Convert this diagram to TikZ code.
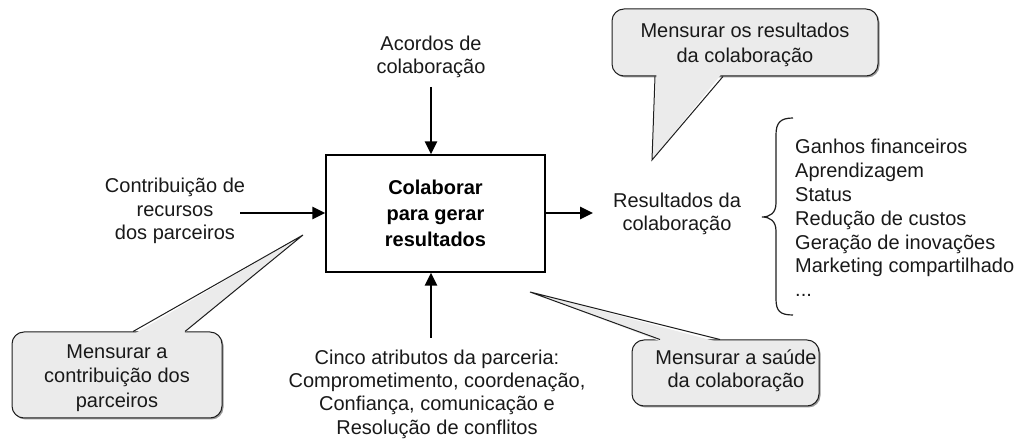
\documentclass[tikz,border=0pt]{standalone}
\usepackage{fontspec}
\setmainfont{Liberation Sans}
\usetikzlibrary{arrows.meta}
\definecolor{cfill}{HTML}{EBEBEB}
\definecolor{cshadow}{HTML}{9A9A9A}
\definecolor{cline}{HTML}{1E1E1E}
\begin{document}
\begin{tikzpicture}[x=1pt,y=-1pt,
  lbl/.style={font=\fontsize{20}{23.5}\selectfont, align=center, inner sep=0pt, text=black!90},
  arr/.style={line width=2.6pt, -{Triangle[length=13pt,width=12pt]}},
  procbox/.style={draw, line width=1.2pt, minimum width=219pt, minimum height=117pt,
    font=\fontsize{20}{26}\selectfont\bfseries, align=center, inner sep=0pt},
  cbody/.style={fill=cfill, draw=cline, line width=1pt, rounded corners=12pt},
  cshad/.style={fill=cshadow, rounded corners=12pt},
  cptr/.style={draw=cline, line width=1pt, line join=miter},
]
\useasboundingbox (0,0) rectangle (1018,443);

% --- central process
\node[procbox] (box) at (435.5,213.5) {Colaborar\\para gerar\\resultados};

% --- labels
\node[lbl] (acordos) at (431,57) {Acordos de\\colaboração};
\node[lbl] (contrib) at (175,211) {Contribuição de\\recursos\\dos parceiros};
\node[lbl] (res) at (677,214) {Resultados da\\colaboração};
\node[lbl, font=\fontsize{20}{23.3}\selectfont] (cinco) at (437,394)
  {Cinco atributos da parceria:\\Comprometimento, coordenação,\\Confiança, comunicação e\\Resolução de conflitos};
\node[lbl, align=left, anchor=west, font=\fontsize{20}{23.8}\selectfont] (lista) at (795,218)
  {Ganhos financeiros\\Aprendizagem\\Status\\Redução de custos\\Geração de inovações\\Marketing compartilhado\\...};

% --- connector end points
\coordinate (ain) at (431,87);
\coordinate (lin) at (240,213);
\coordinate (rout) at (593,213);
\coordinate (bin) at (431,338);

\draw[arr] (ain) -- (box.north -| ain);
\draw[arr] (lin) -- (box.west |- lin);
\draw[arr] (box.east |- rout) -- (rout);
\draw[arr] (bin) -- (box.south -| bin);

% --- brace
\draw[line width=1.2pt, cline] (793,118) .. controls (780,118) and (776,123) .. (776,135)
  -- (776,203) .. controls (776,213) and (770,217) .. (762,217)
  .. controls (770,217) and (776,221) .. (776,231)
  -- (776,299) .. controls (776,311) and (780,315) .. (793,315);

% --- callout top right
\fill[cshad] (613.5,10.5) rectangle (879.5,77.5);
\draw[cbody] (612,9) rectangle (878,76);
\fill[cfill] (656.5,74) -- (652,160) -- (721.5,74) -- cycle;
\draw[cptr] (655,76.5) -- (652,160) -- (723,76.5);
\node[lbl, font=\fontsize{20}{25}\selectfont] (ctr) at (745,45) {Mensurar os resultados\\da colaboração};

% --- callout bottom left
\fill[cshad] (13.5,333.5) rectangle (223.5,419.5);
\draw[cbody] (12,332) rectangle (222,418);
\fill[cfill] (134,334) -- (303,235) -- (183,334) -- cycle;
\draw[cptr] (133,331.5) -- (303,235) -- (185,331.5);
\node[lbl, font=\fontsize{20}{24.5}\selectfont] (cbl) at (117,378) {Mensurar a\\contribuição dos\\parceiros};

% --- callout bottom right
\fill[cshad] (633.5,341.5) rectangle (820.5,407.5);
\draw[cbody] (632,340) rectangle (819,406);
\fill[cfill] (662,342) -- (530,292) -- (718,342) -- cycle;
\draw[cptr] (660,339.5) -- (530,292) -- (720,339.5);
\node[lbl, font=\fontsize{20}{23.5}\selectfont] (cbr) at (736,371) {Mensurar a saúde\\da colaboração};
\end{tikzpicture}
\end{document}
